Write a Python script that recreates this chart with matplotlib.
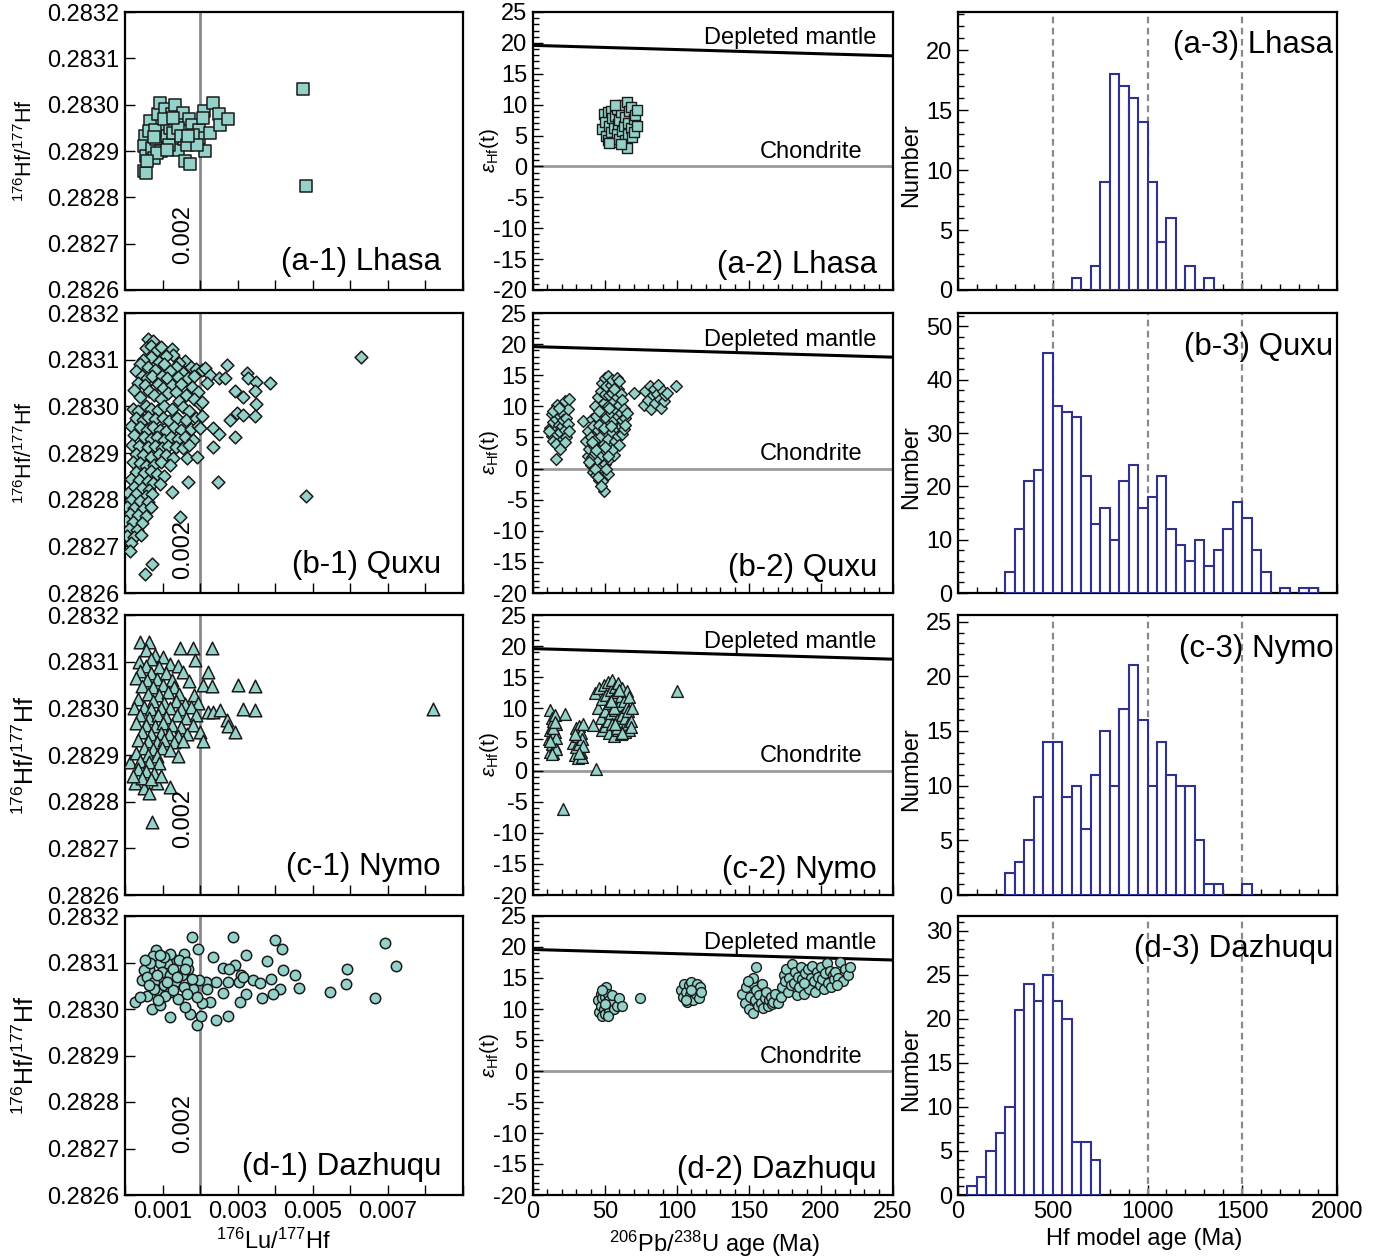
import numpy as np
import matplotlib
matplotlib.use('Agg')
import matplotlib.pyplot as plt
import matplotlib.transforms as mtransforms
from matplotlib.ticker import FixedLocator, MultipleLocator, FuncFormatter

plt.rcParams['font.family'] = ['Liberation Sans', 'DejaVu Sans']
plt.rcParams['axes.unicode_minus'] = False
plt.rcParams['mathtext.fontset'] = 'custom'
plt.rcParams['mathtext.rm'] = 'Liberation Sans'
plt.rcParams['mathtext.it'] = 'Liberation Sans:italic'

# ---------------- data ----------------
samples = ['Lhasa', 'Quxu', 'Nymo', 'Dazhuqu']
letters = ['a', 'b', 'c', 'd']
markers = ['s', 'D', '^', 'o']

# 176Lu/177Hf (x1e-3) vs 176Hf/177Hf
lhasa_luhf = [(0.50,0.282856),(0.56,0.282852),(0.52,0.282933),(0.50,0.282910),(0.56,0.282889),
    (0.67,0.282964),(0.72,0.282907),(0.76,0.282885),(0.83,0.282925),(0.89,0.282979),(0.92,0.283003),
    (0.96,0.282899),(1.01,0.282946),(1.07,0.282990),(1.12,0.282932),(1.20,0.282950),(1.25,0.282979),
    (1.29,0.282917),(1.34,0.283000),(1.41,0.282903),(1.47,0.282968),(1.54,0.282982),(1.58,0.282925),
    (1.60,0.282879),(1.73,0.282872),(1.71,0.282968),(1.78,0.282957),(1.96,0.282946),(1.98,0.282928),
    (2.11,0.282986),(2.13,0.282899),(2.27,0.282939),(2.35,0.283003),(2.09,0.282972),(2.49,0.282979),
    (2.53,0.282957),(2.73,0.282968),(4.74,0.283034),(4.81,0.282824),(0.63,0.282943),(0.81,0.282946),
    (1.03,0.282968),(1.16,0.282914),(1.29,0.282939),(1.42,0.282950),(1.50,0.282932),(1.65,0.282914),
    (1.82,0.282935),(1.91,0.282914),(0.85,0.282896),(1.12,0.282903),(0.58,0.282878),(0.76,0.282930),
    (1.29,0.282972),(1.69,0.282932)]

quxu_luhf = [(0.62,0.283145),(0.75,0.283140),(0.55,0.283125),(0.68,0.283130),(0.85,0.283120),(0.95,0.283128),
    (1.25,0.283122),(1.28,0.283110),(1.10,0.283108),(0.70,0.283105),(0.48,0.283100),(1.60,0.283098),
    (1.45,0.283092),(0.40,0.283090),(1.75,0.283085),(0.90,0.283095),(1.05,0.283090),(1.35,0.283085),
    (0.62,0.283085),(0.80,0.283078),(0.30,0.283075),(1.20,0.283075),(1.55,0.283072),(1.90,0.283080),
    (2.05,0.283078),(0.45,0.283065),(0.58,0.283060),(0.72,0.283065),(0.98,0.283065),(1.12,0.283060),
    (1.40,0.283062),(1.68,0.283060),(1.85,0.283065),(0.35,0.283050),(0.52,0.283045),(0.88,0.283048),
    (1.02,0.283040),(1.25,0.283045),(1.50,0.283048),(1.78,0.283042),(0.25,0.283035),(0.65,0.283032),
    (0.78,0.283025),(1.15,0.283028),(1.35,0.283030),(1.62,0.283025),(1.95,0.283030),(0.40,0.283020),
    (0.95,0.283015),(1.45,0.283012),(1.85,0.283015),(2.00,0.283005),
    (0.20,0.282995),(0.35,0.282990),(0.55,0.283000),(0.70,0.282995),(0.88,0.282992),(1.05,0.283000),
    (1.25,0.282995),(1.55,0.282998),(1.70,0.282990),(0.30,0.282975),(0.48,0.282970),(0.62,0.282978),
    (0.80,0.282972),(1.00,0.282975),(1.18,0.282968),(1.38,0.282975),(1.62,0.282970),(1.88,0.282975),
    (2.05,0.282980),(0.15,0.282958),(0.40,0.282955),(0.58,0.282950),(0.75,0.282955),(0.92,0.282950),
    (1.10,0.282948),(1.30,0.282955),(1.48,0.282950),(1.75,0.282952),(1.95,0.282958),(0.25,0.282938),
    (0.50,0.282935),(0.68,0.282930),(0.85,0.282935),(1.05,0.282928),(1.22,0.282935),(1.40,0.282930),
    (1.60,0.282935),(1.82,0.282928),(0.18,0.282918),(0.38,0.282915),(0.60,0.282912),(0.80,0.282915),
    (0.98,0.282910),(1.15,0.282915),(1.35,0.282912),(1.55,0.282910),(1.70,0.282918),(0.30,0.282898),
    (0.48,0.282895),(0.70,0.282892),(0.90,0.282898),(1.10,0.282895),(1.28,0.282890),(1.65,0.282890),
    (0.20,0.282880),(0.40,0.282878),(0.55,0.282872),(0.78,0.282875),(0.95,0.282880),(1.20,0.282875),
    (0.30,0.282860),(0.50,0.282858),(0.68,0.282862),(0.85,0.282855),(1.05,0.282850),(0.15,0.282845),
    (0.38,0.282842),(0.60,0.282840),(0.75,0.282835),(0.25,0.282828),(0.45,0.282825),(0.65,0.282820),
    (0.08,0.282815),(0.30,0.282812),(0.55,0.282808),(0.72,0.282812),(0.15,0.282800),(0.40,0.282798),
    (0.62,0.282795),(0.05,0.282785),(0.25,0.282782),(0.48,0.282780),(0.70,0.282785),(0.12,0.282770),
    (0.35,0.282768),(0.55,0.282765),(0.02,0.282755),(0.22,0.282752),(0.45,0.282750),(0.10,0.282738),
    (0.32,0.282735),(0.05,0.282722),(0.25,0.282720),(0.42,0.282725),(0.15,0.282708),(0.14,0.282690),
    (0.72,0.282663),(0.52,0.282641),(1.47,0.282762),(1.25,0.282816),(0.94,0.282834),(1.69,0.282837),
    (1.91,0.282891),
    (2.13,0.283082),(2.27,0.283068),(2.49,0.283060),(2.66,0.283060),(2.71,0.283089),(2.18,0.283050),
    (3.24,0.283071),(3.28,0.283060),(3.50,0.283053),(3.86,0.283050),(2.93,0.283032),(3.13,0.283019),
    (3.46,0.283032),(3.50,0.283006),(2.04,0.283010),(2.80,0.282971),(2.97,0.282985),(3.15,0.282981),
    (3.46,0.282979),(2.00,0.282953),(2.35,0.282953),(2.49,0.282940),(2.93,0.282935),(2.35,0.282913),
    (2.47,0.282837),(4.83,0.282807),(6.29,0.283105)]

nymo_luhf = [(0.41,0.283143),(0.63,0.283143),(1.47,0.283129),(1.82,0.283129),(2.31,0.283129),(0.55,0.283125),
    (0.80,0.283115),(0.70,0.283105),(0.38,0.283100),(1.00,0.283110),(1.87,0.283104),(1.20,0.283095),
    (0.55,0.283090),(0.90,0.283088),(1.40,0.283090),(0.40,0.283080),(0.70,0.283075),(1.10,0.283075),
    (1.55,0.283078),(2.22,0.283078),(0.30,0.283065),(0.58,0.283060),(0.85,0.283062),(1.25,0.283060),
    (1.70,0.283058),(0.45,0.283048),(0.75,0.283045),(1.00,0.283050),(1.30,0.283045),(2.09,0.283050),
    (2.31,0.283048),(3.02,0.283050),(3.46,0.283048),(0.60,0.283030),(0.90,0.283028),(1.15,0.283035),
    (1.45,0.283030),(1.85,0.283028),(0.35,0.283020),(0.75,0.283015),(1.05,0.283012),(1.35,0.283015),
    (1.60,0.283010),(1.95,0.283012),
    (0.25,0.283000),(0.50,0.283002),(0.70,0.282998),(0.95,0.283000),(1.20,0.283000),(1.48,0.282998),
    (1.75,0.283002),(2.22,0.282992),(2.35,0.282992),(2.53,0.282996),(3.15,0.282999),(3.46,0.282996),
    (8.19,0.282998),(0.40,0.282985),(0.65,0.282980),(0.88,0.282985),(1.10,0.282982),(1.38,0.282985),
    (1.62,0.282980),(1.90,0.282985),(2.71,0.282974),(2.75,0.282963),(2.93,0.282950),(0.30,0.282968),
    (0.55,0.282965),(0.80,0.282962),(1.02,0.282968),(1.25,0.282965),(1.50,0.282960),(1.80,0.282965),
    (2.00,0.282949),(2.09,0.282931),(0.45,0.282950),(0.70,0.282945),(0.95,0.282948),(1.18,0.282945),
    (1.40,0.282940),(1.65,0.282945),(0.35,0.282932),(0.60,0.282930),(0.85,0.282928),(1.05,0.282932),
    (1.30,0.282928),(1.55,0.282930),(0.50,0.282915),(0.75,0.282912),(0.98,0.282915),(1.20,0.282910),
    (1.42,0.282897),(0.12,0.282886),(0.30,0.282905),(0.62,0.282900),(0.85,0.282898),
    (0.40,0.282888),(0.65,0.282885),(0.90,0.282882),(0.27,0.282841),(0.50,0.282830),(0.63,0.282819),
    (0.85,0.282841),(0.72,0.282757),(1.20,0.282832),(0.35,0.282870),(0.55,0.282865),(0.78,0.282862),
    (0.45,0.282850),(0.70,0.282848),(0.95,0.282855),(0.20,0.282855)]

dazhuqu_luhf = [(1.78,0.283155),(2.87,0.283155),(3.99,0.283148),(4.19,0.283129),(6.93,0.283143),
    (1.94,0.283128),(2.35,0.283112),(3.22,0.283117),(3.77,0.283104),(7.22,0.283093),(5.92,0.283087),
    (4.21,0.283083),(4.52,0.283074),(3.90,0.283065),(5.88,0.283053),(4.64,0.283046),(5.45,0.283037),
    (6.66,0.283024),(4.12,0.283044),(3.64,0.283024),(3.93,0.283032),(3.22,0.283032),(3.06,0.283015),
    (3.08,0.283073),(2.93,0.283094),(2.62,0.283089),(2.78,0.283085),(3.42,0.283062),(3.59,0.283055),
    (2.75,0.283058),(3.04,0.283058),(3.15,0.283069),(2.42,0.283058),(2.60,0.283035),(2.27,0.283015),
    (2.04,0.283013),(2.75,0.282984),(2.42,0.282977),(1.93,0.282965),(2.03,0.282984),(1.73,0.282990),
    (1.60,0.283004),(1.20,0.282983),(0.72,0.282999),(0.27,0.283015),(0.94,0.283008),(2.16,0.283058),
    (1.96,0.283062),(2.19,0.283042),(1.82,0.283044),(1.69,0.283087),(1.56,0.283119),(1.34,0.283105),
    (1.12,0.283098),(0.83,0.283127),(0.74,0.283114),(0.94,0.283098),(0.63,0.283087),(0.50,0.283083),
    (0.45,0.283062),(0.58,0.283069),(0.76,0.283058),(0.85,0.283040),(1.03,0.283051),(1.20,0.283037),
    (1.34,0.283058),(1.51,0.283073),(1.56,0.283047),(1.42,0.283022),(1.07,0.283029),(0.89,0.283019),
    (0.58,0.283029),(0.41,0.283026),(0.98,0.283080),(1.20,0.283073),(0.85,0.283073),(0.67,0.283100),
    (1.20,0.283119),(1.03,0.283112),(1.45,0.283106),(1.65,0.283101),(0.54,0.283105),(0.94,0.283116),
    (1.29,0.283087),(1.78,0.283065),(1.91,0.283026),(1.65,0.283033),(1.29,0.283040),(1.12,0.283058),
    (0.76,0.283044),(0.63,0.283051),(1.38,0.283069),(1.60,0.283087)]

# 206Pb/238U age (Ma) vs eHf(t)
lhasa_ehf = [(48,6.0),(49,8.5),(50,7.2),(51,5.0),(52,4.2),(52,8.8),(53,6.5),(54,9.0),(54,5.5),(55,7.8),
    (56,4.0),(56,6.3),(57,8.2),(58,5.2),(58,9.3),(59,6.8),(60,4.5),(60,7.5),(61,8.8),(62,5.8),(62,9.9),
    (63,6.6),(64,4.2),(64,8.0),(65,10.4),(65,3.0),(66,7.0),(66,5.3),(67,8.9),(68,6.2),(68,9.6),(69,4.8),
    (70,7.6),(70,5.6),(71,8.4),(72,6.5),(72,9.2),(53,3.8),(57,10.0),(61,3.6)]

quxu_ehf = [(12,6.5),(13,8.8),(13,5.2),(14,7.5),(14,4.5),(15,9.5),(15,6.0),(16,1.5),(16,8.0),(17,5.5),
    (17,10.2),(18,7.0),(18,3.8),(19,8.5),(19,5.8),(20,6.8),(20,9.0),(21,4.8),(21,7.8),(22,10.8),(22,6.2),
    (23,8.2),(23,5.0),(24,9.5),(24,7.2),(25,11.2),(25,6.0),(14,9.2),(16,4.0),(19,3.2),(22,4.2),(11,6.0),
    (18,9.8),
    (35,7.7),(37,4.5),(38,2.0),(38,6.0),(39,3.2),(40,0.5),(40,5.0),(41,8.0),(41,1.8),(42,-0.5),(42,3.8),
    (42,6.8),(43,2.5),(43,10.0),(44,-1.0),(44,4.8),(44,8.5),(45,1.2),(45,6.2),(45,11.5),(46,3.0),(46,-1.8),
    (46,9.2),(47,0.2),(47,5.2),(47,12.5),(48,-2.0),(48,2.2),(48,7.2),(48,13.8),(49,-3.6),(49,4.0),(49,10.5),
    (50,0.8),(50,6.0),(50,12.0),(50,14.5),(51,2.8),(51,8.2),(51,13.2),(52,-0.8),(52,4.8),(52,10.0),
    (52,14.9),(53,1.5),(53,7.0),(53,11.8),(54,3.5),(54,9.0),(54,13.5),(55,5.8),(55,12.2),(55,14.2),
    (56,2.2),(56,7.8),(56,10.8),(57,4.5),(57,9.5),(57,13.0),(58,6.5),(58,11.5),(58,14.6),(59,5.2),(59,8.5),
    (59,12.8),(60,3.8),(60,10.2),(60,14.0),(61,6.8),(61,9.0),(61,12.0),(62,5.5),(62,7.8),(62,11.0),
    (63,6.3),(63,9.5),(64,8.2),(64,7.0),(65,9.0),(43,0.0),(45,-1.4),(47,-2.8),(46,7.0),(44,3.0),(49,6.5),
    (51,0.0),(53,9.8),(55,3.0),(41,4.2),(39,1.0),(50,3.5),(52,2.0),(54,6.8),(56,12.8),
    (70,12.2),
    (77,10.2),(78,12.5),(80,11.0),(81,13.2),(82,9.6),(83,11.8),(84,12.8),(85,10.5),(86,12.0),(87,13.5),
    (88,11.2),(89,9.8),(90,12.5),(91,10.8),(92,11.8),(99,13.3),(93,12.2)]

nymo_ehf = [(11,5.0),(12,9.8),(12,6.5),(12,3.0),(13,8.5),(13,4.2),(13,7.0),(14,5.8),(14,2.8),(14,8.0),
    (15,6.2),(15,4.0),(15,9.0),(16,5.2),(16,7.5),(16,3.5),(12,4.8),(14,6.8),(13,2.6),(15,7.8),
    (22,9.1),
    (28,4.5),(29,2.5),(30,6.8),(30,3.8),(31,5.5),(31,2.0),(32,7.2),(32,4.2),(33,3.0),(33,6.0),(34,5.0),
    (34,2.2),(35,7.5),(35,4.0),(29,5.8),(32,2.8),
    (42,7.3),(44,0.3),(21,-6.1),
    (43,12.5),(45,10.0),(46,13.2),(47,8.5),(48,11.5),(48,6.5),(49,13.8),(50,9.5),(50,7.2),(51,12.2),
    (52,14.2),(52,8.0),(53,10.8),(53,6.0),(54,13.0),(54,9.2),(55,14.6),(55,7.5),(56,11.8),(56,5.6),
    (57,13.5),(57,9.8),(58,8.2),(58,12.6),(59,6.5),(59,14.0),(60,10.5),(60,7.8),(61,12.0),(61,5.8),
    (62,9.0),(62,13.2),(63,7.0),(63,11.2),(64,8.5),(64,6.2),(65,10.2),(65,12.8),(66,7.5),(66,9.5),
    (67,6.5),(67,11.8),(68,8.0),(69,10.0),(68,7.0),(56,10.0),(58,6.8),(60,13.0),(62,6.0),(54,11.2),
    (57,7.5),
    (100,12.8)]

dazhuqu_ehf = [(45,11.5),(46,9.5),(47,12.5),(47,10.5),(48,8.8),(48,11.8),(49,13.2),(49,10.0),(50,12.0),
    (50,9.2),(51,11.0),(51,13.5),(52,10.2),(52,12.5),(53,9.5),(53,11.5),(54,10.8),(55,12.2),(56,10.0),
    (58,10.5),(60,11.8),(62,10.5),(48,13.0),(50,10.8),(52,8.8),
    (74,11.8),
    (103,13.0),(104,12.0),(105,14.0),(106,12.8),(107,11.2),(108,13.8),(109,12.2),(110,14.4),(111,11.5),
    (112,13.2),(113,12.5),(114,14.0),(115,11.8),(116,13.5),(117,12.8),(106,11.5),(110,13.0),
    (145,12.5),(147,11.0),(148,13.5),(150,10.0),(151,12.0),(152,14.2),(153,9.4),(154,11.5),(155,16.8),
    (155,13.0),(156,10.5),(157,12.2),(158,11.0),(159,14.0),(160,10.2),(161,11.8),(162,12.8),(163,10.5),
    (164,11.5),(165,12.0),(166,10.8),(167,11.2),(168,12.5),(170,11.0),(172,12.0),(153,15.0),(149,14.5),
    (173,13.5),(174,15.5),(175,14.5),(176,16.5),(177,12.8),(178,15.0),(179,13.8),(180,17.2),(181,14.2),
    (182,16.0),(183,12.2),(184,15.2),(185,13.5),(186,16.8),(187,14.8),(188,12.5),(189,15.8),(190,14.0),
    (191,16.5),(192,13.2),(193,15.0),(194,17.0),(195,14.5),(196,12.8),(197,16.0),(198,15.2),(199,13.8),
    (200,16.8),(201,14.8),(202,13.2),(203,15.8),(204,17.5),(205,14.2),(206,16.2),(207,13.5),(208,15.5),
    (209,14.8),(210,16.0),(212,15.0),(213,17.6),(215,14.5),(217,16.5),(219,15.5),(220,16.8),(211,13.8),
    (188,14.2)]

# Reference lines
dm_age = [0, 250]
dm_ehf = [19.6, 17.9]
chondrite_ehf = 0
luhf_ref = 0.002

# Hf model age histograms (50 Ma bins)
bin_width = 50
lhasa_hist_start = 600
lhasa_counts = [1, 0, 2, 9, 18, 17, 16, 14, 9, 4, 6, 0, 2, 0, 1]
quxu_hist_start = 250
quxu_counts = [4, 12, 21, 23, 45, 35, 34, 33, 22, 13, 16, 10, 21, 24, 16, 18, 22, 12, 9, 6, 10, 5, 8,
               12, 17, 14, 8, 4, 0, 1, 0, 1, 1]
nymo_hist_start = 250
nymo_counts = [2, 3, 5, 9, 14, 14, 9, 10, 6, 11, 15, 10, 17, 21, 16, 10, 14, 11, 10, 10, 5, 1, 1, 0, 0, 1]
dazhuqu_hist_start = 50
dazhuqu_counts = [1, 2, 5, 7, 10, 21, 24, 22, 25, 22, 20, 6, 6, 4]
model_age_refs = [500, 1000, 1500]

hist_ymax = [23.2, 52.5, 25.6, 31.7]
hist_major = [5, 10, 5, 5]
hist_minor = [1, 2, 1, 1]

luhf_data = [lhasa_luhf, quxu_luhf, nymo_luhf, dazhuqu_luhf]
ehf_data = [lhasa_ehf, quxu_ehf, nymo_ehf, dazhuqu_ehf]
hist_data = [(lhasa_hist_start, lhasa_counts), (quxu_hist_start, quxu_counts),
             (nymo_hist_start, nymo_counts), (dazhuqu_hist_start, dazhuqu_counts)]

# ---------------- layout ----------------
W, H = 1384, 1256
fig = plt.figure(figsize=(W / 100, H / 100), dpi=100)

def rect(l, t, r, b):
    return [l / W, 1 - b / H, (r - l) / W, (b - t) / H]

rows = [(12, 290), (313, 593), (615, 895), (916, 1195)]
cols = [(125, 463), (533, 893), (958, 1337)]

FILL = '#93d1c9'
TICK_FS = 17
LABEL_FS = 22.5
GRAY = '#8a8a8a'
NAVY = '#2e3192'

col1_ms = [80, 42, 82, 56]
col2_ms = [62, 36, 72, 50]
zero02_y = [0.2, 0.157, 0.275, 0.258]
ylab1_fs = [15.5, 15.5, 18, 18]
ylab1_x = [-0.26, -0.26, -0.255, -0.255]
XLAB_Y = -0.12

def style(ax):
    for s in ax.spines.values():
        s.set_linewidth(1.6)
        s.set_color('black')
    ax.tick_params(which='both', direction='in', top=False, right=False,
                   labelsize=TICK_FS, width=1.0, pad=4)
    ax.tick_params(which='major', length=7)
    ax.tick_params(which='minor', length=4)

def odd_milli(v, p):
    k = int(round(v * 1000))
    return f'{v:.3f}' if k in (1, 3, 5, 7) else ''

for i in range(4):
    t, b = rows[i]
    last = (i == 3)

    # ---- column 1 ----
    ax = fig.add_axes(rect(cols[0][0], t, cols[0][1], b))
    style(ax)
    pts = np.array(luhf_data[i])
    ax.axvline(luhf_ref, color=GRAY, lw=2, zorder=1)
    ax.scatter(pts[:, 0] * 1e-3, pts[:, 1], marker=markers[i], s=col1_ms[i], c=FILL,
               edgecolors='#1a1a1a', linewidths=1.1, zorder=3)
    ax.set_xlim(0, 0.009)
    ax.set_ylim(0.2826, 0.2832)
    ax.xaxis.set_major_locator(FixedLocator(np.arange(0, 0.00901, 0.001)))
    ax.yaxis.set_major_locator(FixedLocator(np.arange(0.2826, 0.283201, 0.0001)))
    ax.yaxis.set_major_formatter(FuncFormatter(lambda v, p: f'{v:.4f}'))
    if last:
        ax.xaxis.set_major_formatter(FuncFormatter(odd_milli))
        ax.set_xlabel(r'$^{176}$Lu/$^{177}$Hf', fontsize=17)
        ax.xaxis.set_label_coords(0.44, XLAB_Y)
    else:
        ax.set_xticklabels([])
    ax.set_ylabel(r'$^{176}$Hf/$^{177}$Hf', fontsize=ylab1_fs[i])
    ax.yaxis.set_label_coords(ylab1_x[i], 0.5)
    ax.text(0.00155, zero02_y[i], '0.002', rotation=90, ha='center', va='center', fontsize=17,
            transform=mtransforms.blended_transform_factory(ax.transData, ax.transAxes))
    ax.text(0.935, 0.1, f'({letters[i]}-1) {samples[i]}', ha='right', va='center',
            fontsize=LABEL_FS, transform=ax.transAxes)

    # ---- column 2 ----
    ax = fig.add_axes(rect(cols[1][0], t, cols[1][1], b))
    style(ax)
    pts = np.array(ehf_data[i])
    ax.plot(dm_age, dm_ehf, color='black', lw=2.2, zorder=2)
    ax.axhline(chondrite_ehf, color='#9a9a9a', lw=2, zorder=1)
    ax.scatter(pts[:, 0], pts[:, 1], marker=markers[i], s=col2_ms[i], c=FILL,
               edgecolors='#1a1a1a', linewidths=1.0, zorder=3)
    ax.set_xlim(0, 250)
    ax.set_ylim(-20, 25)
    ax.xaxis.set_major_locator(MultipleLocator(50))
    ax.xaxis.set_minor_locator(MultipleLocator(10))
    ax.yaxis.set_major_locator(MultipleLocator(5))
    ax.yaxis.set_minor_locator(MultipleLocator(1))
    ax.yaxis.set_major_formatter(FuncFormatter(lambda v, p: f'{v:.0f}'))
    if last:
        ax.set_xlabel(r'$^{206}$Pb/$^{238}$U age (Ma)', fontsize=17)
        ax.xaxis.set_label_coords(0.505, XLAB_Y)
    else:
        ax.set_xticklabels([])
    ax.set_ylabel(r'$\varepsilon_{\rm Hf}$(t)', fontsize=15)
    ax.yaxis.set_label_coords(-0.088, 0.5)
    ax.text(0.955, 0.905, 'Depleted mantle', ha='right', va='center', fontsize=17,
            transform=ax.transAxes)
    ax.text(0.915, 0.495, 'Chondrite', ha='right', va='center', fontsize=17,
            transform=ax.transAxes)
    ax.text(0.955, 0.09, f'({letters[i]}-2) {samples[i]}', ha='right', va='center',
            fontsize=LABEL_FS, transform=ax.transAxes)

    # ---- column 3 ----
    ax = fig.add_axes(rect(cols[2][0], t, cols[2][1], b))
    style(ax)
    start, counts = hist_data[i]
    counts = np.array(counts)
    lefts = start + bin_width * np.arange(len(counts))
    keep = counts > 0
    ax.bar(lefts[keep], counts[keep], width=bin_width, align='edge', facecolor='white',
           edgecolor=NAVY, linewidth=1.5, zorder=3)
    for ref in model_age_refs:
        ax.axvline(ref, color=GRAY, lw=1.6, ls=(0, (3, 2)), zorder=2)
    ax.set_xlim(0, 2000)
    ax.set_ylim(0, hist_ymax[i])
    ax.xaxis.set_major_locator(MultipleLocator(500))
    ax.xaxis.set_minor_locator(MultipleLocator(100))
    ax.yaxis.set_major_locator(MultipleLocator(hist_major[i]))
    ax.yaxis.set_minor_locator(MultipleLocator(hist_minor[i]))
    if last:
        ax.set_xlabel('Hf model age (Ma)', fontsize=17)
        ax.xaxis.set_label_coords(0.49, XLAB_Y)
    else:
        ax.set_xticklabels([])
    ax.set_ylabel('Number', fontsize=17)
    ax.yaxis.set_label_coords(-0.095, 0.45)
    ax.text(0.99, 0.88, f'({letters[i]}-3) {samples[i]}', ha='right', va='center',
            fontsize=LABEL_FS, transform=ax.transAxes, zorder=5)

fig.savefig('out.png', dpi=100, facecolor='white')
